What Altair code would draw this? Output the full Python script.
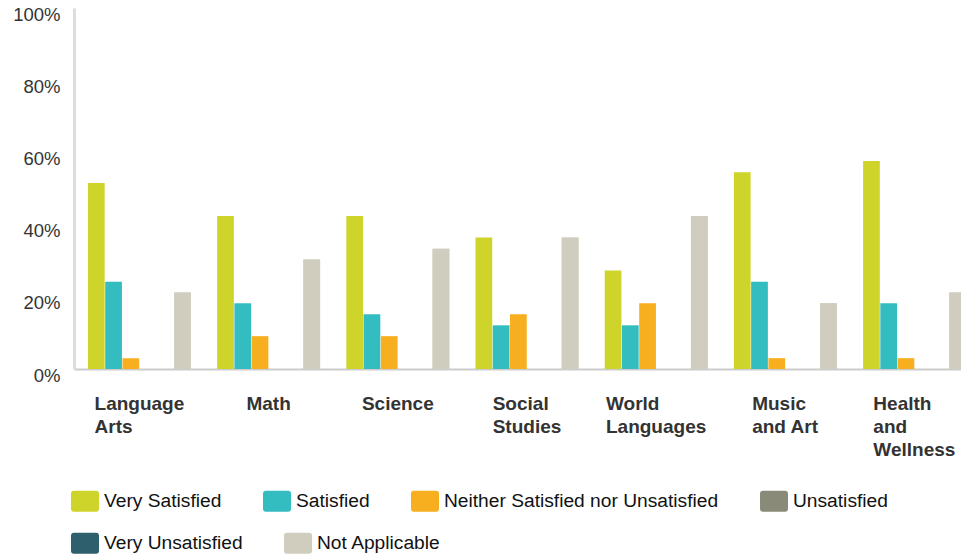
import altair as alt
import pandas as pd

# ---------------- data ----------------
categories = ["Language Arts", "Math", "Science", "Social Studies",
              "World Languages", "Music and Art", "Health and Wellness"]
label_lines = [["Language", "Arts"], ["Math"], ["Science"], ["Social", "Studies"],
               ["World", "Languages"], ["Music", "and Art"], ["Health", "and", "Wellness"]]
ratings = ["Very Satisfied", "Satisfied", "Neither Satisfied nor Unsatisfied",
           "Unsatisfied", "Very Unsatisfied", "Not Applicable"]
colors = ["#cfd42a", "#33bdc0", "#f7ae1f", "#8a8a78", "#2e5f6d", "#d0cdbf"]

very_satisfied = [51.5, 42.4, 42.4, 36.4, 27.3, 54.5, 57.6]
satisfied = [24.2, 18.2, 15.2, 12.1, 12.1, 24.2, 18.2]
neither = [3.0, 9.1, 9.1, 15.2, 18.2, 3.0, 3.0]
unsatisfied = [0, 0, 0, 0, 0, 0, 0]
very_unsatisfied = [0, 0, 0, 0, 0, 0, 0]
not_applicable = [21.2, 30.3, 33.3, 36.4, 42.4, 18.2, 21.2]
y_ticks = [0, 0.1, 0.2, 0.3, 0.4, 0.5, 0.6, 0.7, 0.8, 0.9, 1.0]

series = [very_satisfied, satisfied, neither, unsatisfied, very_unsatisfied, not_applicable]
rows = []
for rating, vals in zip(ratings, series):
    for cat, v in zip(categories, vals):
        rows.append({"subject": cat, "rating": rating, "pct": v / 100.0})
df = pd.DataFrame(rows)

# legend split into the two rows of the reference
legend_row1 = ratings[:4]
legend_row2 = ratings[4:]

# ---------------- styling helpers ----------------
FONT = "Liberation Sans"
XFS = 19
# Arial/Liberation Sans Bold advance widths (per 1000 em) to centre left-aligned label blocks
bold_w = {' ': 278, 'A': 722, 'H': 722, 'L': 611, 'M': 833, 'S': 667, 'W': 944,
          'a': 556, 'c': 556, 'd': 611, 'e': 556, 'g': 611, 'h': 611, 'i': 278,
          'l': 278, 'm': 889, 'n': 611, 'o': 611, 'r': 389, 's': 556, 't': 333,
          'u': 611, 'w': 778}


def text_w(s):
    return sum(bold_w.get(ch, 600) for ch in s) * XFS / 1000.0


label_expr = "''"
for cat, lines in reversed(list(zip(categories, label_lines))):
    arr = "[" + ",".join("'" + l + "'" for l in lines) + "]"
    label_expr = f"datum.label === '{cat}' ? {arr} : ({label_expr})"

offset_conditions = []
for cat, lines in zip(categories, label_lines):
    w = max(text_w(l) for l in lines)
    offset_conditions.append({"test": f"datum.value === '{cat}'", "value": round(-w / 2, 1)})

legend_symbol = ("M -0.79,-0.75 L 0.79,-0.75 Q 1,-0.75 1,-0.54 L 1,0.54 Q 1,0.75 0.79,0.75 "
                 "L -0.79,0.75 Q -1,0.75 -1,0.54 L -1,-0.54 Q -1,-0.75 -0.79,-0.75 Z")

legend_style = dict(
    title=None, orient="none", direction="horizontal", padding=0,
    columnPadding=41, symbolType=legend_symbol, symbolSize=784,
    symbolStrokeWidth=0, symbolOpacity=1,
    labelFont=FONT, labelFontSize=19.2, labelColor="#111111",
    labelOffset=5, labelLimit=500,
)

x_enc = alt.X(
    "subject:N",
    sort=categories,
    scale=alt.Scale(paddingInner=0.203, paddingOuter=0.108),
    axis=alt.Axis(
        title=None, labelAngle=0, labelExpr=label_expr, labelAlign="left",
        labelOffset={"condition": offset_conditions, "value": 0},
        labelFont=FONT, labelFontSize=XFS, labelFontWeight="bold",
        labelColor="#333333", labelLineHeight=23, labelPadding=25,
        labelBaseline="top", labelOverlap=False, labelBound=False,
        ticks=False, grid=False, domainColor="#cccccc", domainWidth=2,
    ),
)
xoff_enc = alt.XOffset("rating:N", sort=ratings,
                       scale=alt.Scale(domain=ratings, paddingInner=0.03))
y_enc = alt.Y(
    "pct:Q",
    scale=alt.Scale(domain=[0, 1], nice=False),
    axis=alt.Axis(
        title=None, values=y_ticks,
        labelExpr="round(datum.value * 10) % 2 == 0 ? format(datum.value, '.0%') : ''",
        labelFont=FONT, labelFontSize=18.5, labelColor="#333333",
        labelPadding=14, labelOffset=6, ticks=False,
        domainColor="#dddddd", domainWidth=3,
        gridColor="#ffffff", gridWidth=2,
    ),
)

bars_main = alt.Chart(df).mark_bar().encode(
    x=x_enc, xOffset=xoff_enc, y=y_enc,
    color=alt.Color(
        "rating:N", sort=ratings,
        scale=alt.Scale(domain=ratings, range=colors),
        legend=alt.Legend(values=legend_row1, columns=4, legendX=-3, legendY=479,
                          **legend_style),
    ),
)

bars_row2 = alt.Chart(df).transform_filter(
    alt.FieldOneOfPredicate(field="rating", oneOf=legend_row2)
).mark_bar().encode(
    x=x_enc, xOffset=xoff_enc, y=y_enc,
    color=alt.Color(
        "rating:N", sort=legend_row2,
        scale=alt.Scale(domain=legend_row2, range=colors[4:]),
        legend=alt.Legend(columns=2, legendX=-3, legendY=521, **legend_style),
    ),
)

chart = alt.layer(bars_main, bars_row2).resolve_scale(
    color="independent"
).properties(
    width=906,
    height=361,
    autosize=alt.AutoSizeParams(type="none"),
    padding={"left": 66, "top": 0, "right": -19, "bottom": 186},
).configure_view(
    fill="#f0f0f0", stroke="transparent"
).configure(background="#ffffff")

chart.save("out.html", embed_options={"renderer": "svg", "actions": False})
